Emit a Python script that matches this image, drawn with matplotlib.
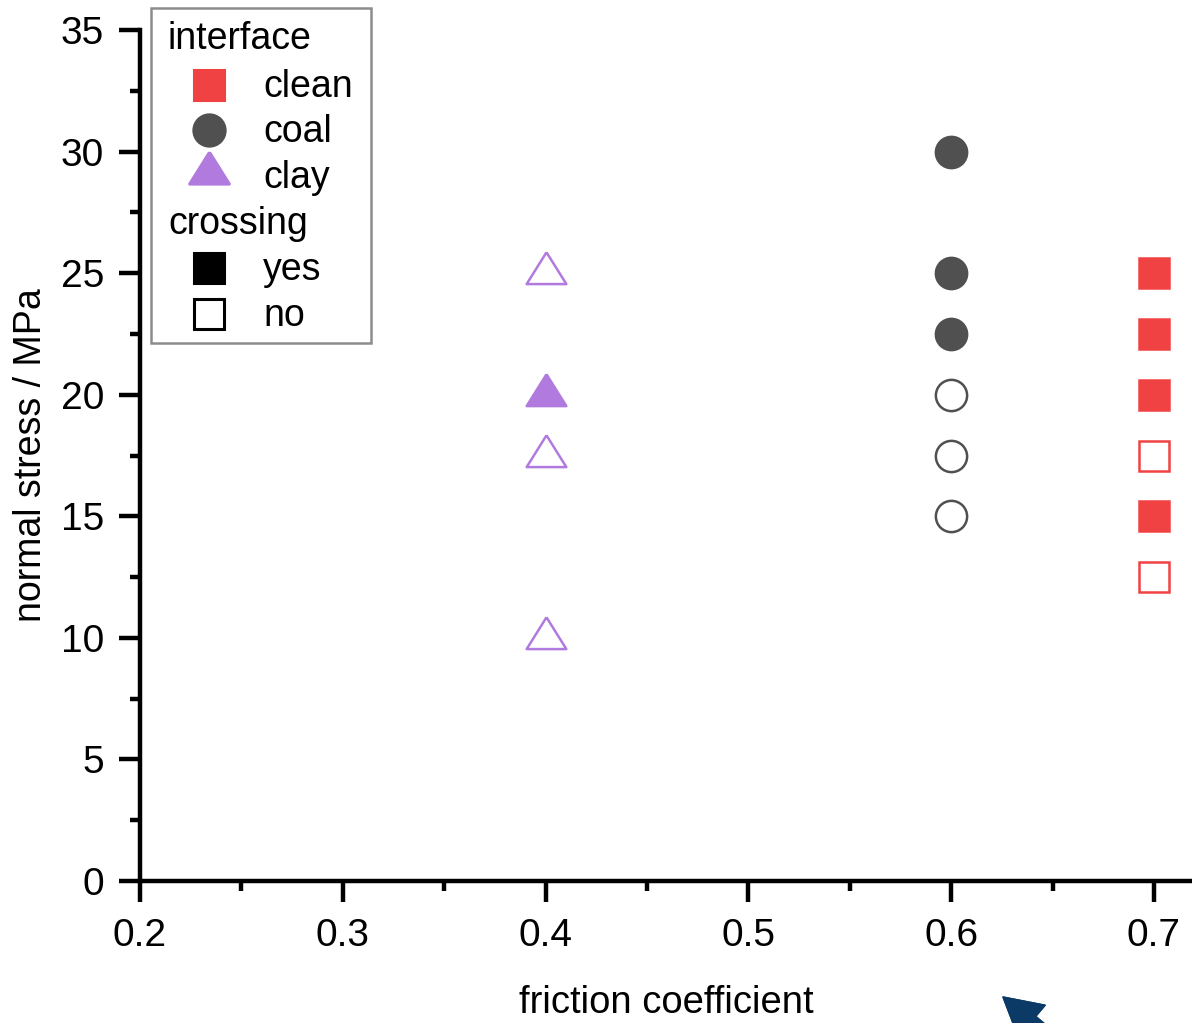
import matplotlib.pyplot as plt
from matplotlib.patches import Rectangle
from matplotlib.ticker import MultipleLocator

plt.rcParams['font.family'] = ['Liberation Sans', 'DejaVu Sans']

# data
clay_mu = [0.4, 0.4, 0.4, 0.4]
clay_stress = [25, 20, 17.5, 10]
clay_cross = [False, True, False, False]

coal_mu = [0.6, 0.6, 0.6, 0.6, 0.6, 0.6]
coal_stress = [30, 25, 22.5, 20, 17.5, 15]
coal_cross = [True, True, True, False, False, False]

clean_mu = [0.7, 0.7, 0.7, 0.7, 0.7, 0.7]
clean_stress = [25, 22.5, 20, 17.5, 15, 12.5]
clean_cross = [True, True, True, False, True, False]

red = '#f04242'
grey = '#505050'
purple = '#b07ade'

# triangle centred on its centroid, like the original software does
tri = [(0, 1.067), (-1, -0.533), (1, -0.533), (0, 1.067)]

W, H = 1192, 1023
fig = plt.figure(figsize=(W / 100, H / 100), dpi=100)
ax = fig.add_axes([140 / W, (H - 881) / H, (W - 140) / W, (881 - 30) / H])

MS = {'s': 21, 'o': 22.5, 'tri': 30.5}

def mk(m):
    return tri if m == 'tri' else m

def draw(xs, ys, cross, color, marker):
    for x, y, c in zip(xs, ys, cross):
        ax.plot(x, y, marker=mk(marker), ms=MS[marker], mec=color, mew=1.8,
                mfc=color if c else 'white', ls='none', clip_on=False, zorder=3)

draw(clay_mu, clay_stress, clay_cross, purple, 'tri')
draw(coal_mu, coal_stress, coal_cross, grey, 'o')
draw(clean_mu, clean_stress, clean_cross, red, 's')

ax.set_xlim(0.2, 0.2 + (W - 140) / 2028)
ax.set_ylim(0, 35)
ax.spines['top'].set_visible(False)
ax.spines['right'].set_visible(False)
for s in ['left', 'bottom']:
    ax.spines[s].set_linewidth(3.2)
ax.xaxis.set_major_locator(MultipleLocator(0.1))
ax.xaxis.set_minor_locator(MultipleLocator(0.05))
ax.yaxis.set_major_locator(MultipleLocator(5))
ax.yaxis.set_minor_locator(MultipleLocator(2.5))
ax.set_xticks([0.2, 0.3, 0.4, 0.5, 0.6, 0.7])
ax.set_xticklabels(['0.2', '0.3', '0.4', '0.5', '0.6', '0.7'])
ax.tick_params(which='major', length=15, width=3.2, labelsize=28)
ax.tick_params(axis='x', which='major', pad=12)
ax.tick_params(axis='y', which='major', pad=11)
ax.tick_params(which='minor', length=7, width=3.2)
ax.set_xlabel('friction coefficient', fontsize=27.5, labelpad=22)
ax.set_ylabel('normal stress / MPa', fontsize=27, labelpad=8)

# legend drawn by hand, in figure pixels
def fx(px):
    return px / W

def fy(py):
    return 1 - py / H

ax.add_patch(Rectangle((fx(151), fy(343)), fx(371) - fx(151), fy(8) - fy(343),
                       transform=fig.transFigure, fc='white', ec='#8c8c8c', lw=1.8,
                       clip_on=False, zorder=4))
fs = 27
ax.text(fx(168), fy(39), 'interface', fontsize=fs, va='center',
        transform=fig.transFigure, zorder=5)
ax.text(fx(168), fy(224), 'crossing', fontsize=fs, va='center',
        transform=fig.transFigure, zorder=5)
rows = [(87, 'clean', 's', red, red),
        (132, 'coal', 'o', grey, grey),
        (178, 'clay', 'tri', purple, purple),
        (270, 'yes', 's', 'black', 'black'),
        (316, 'no', 's', 'black', 'white')]
for py, label, m, ec, fc in rows:
    ax.plot(fx(209), fy(py - (5 if m == 'tri' else 2)), marker=mk(m), ms=MS[m],
            mec=ec, mfc=fc, mew=2.2,
            transform=fig.transFigure, clip_on=False, zorder=5)
    ax.text(fx(263), fy(py), label, fontsize=fs, va='center',
            transform=fig.transFigure, zorder=5)

# partial arrow at the bottom edge
fig.add_artist(plt.annotate('', xy=(fx(1003), fy(997)), xytext=(fx(1085), fy(1066)),
                            xycoords='figure fraction', textcoords='figure fraction',
                            arrowprops=dict(width=9, headwidth=30, headlength=27,
                                            shrink=0, color='#0b3a66')))

fig.savefig('out.png', dpi=100)
